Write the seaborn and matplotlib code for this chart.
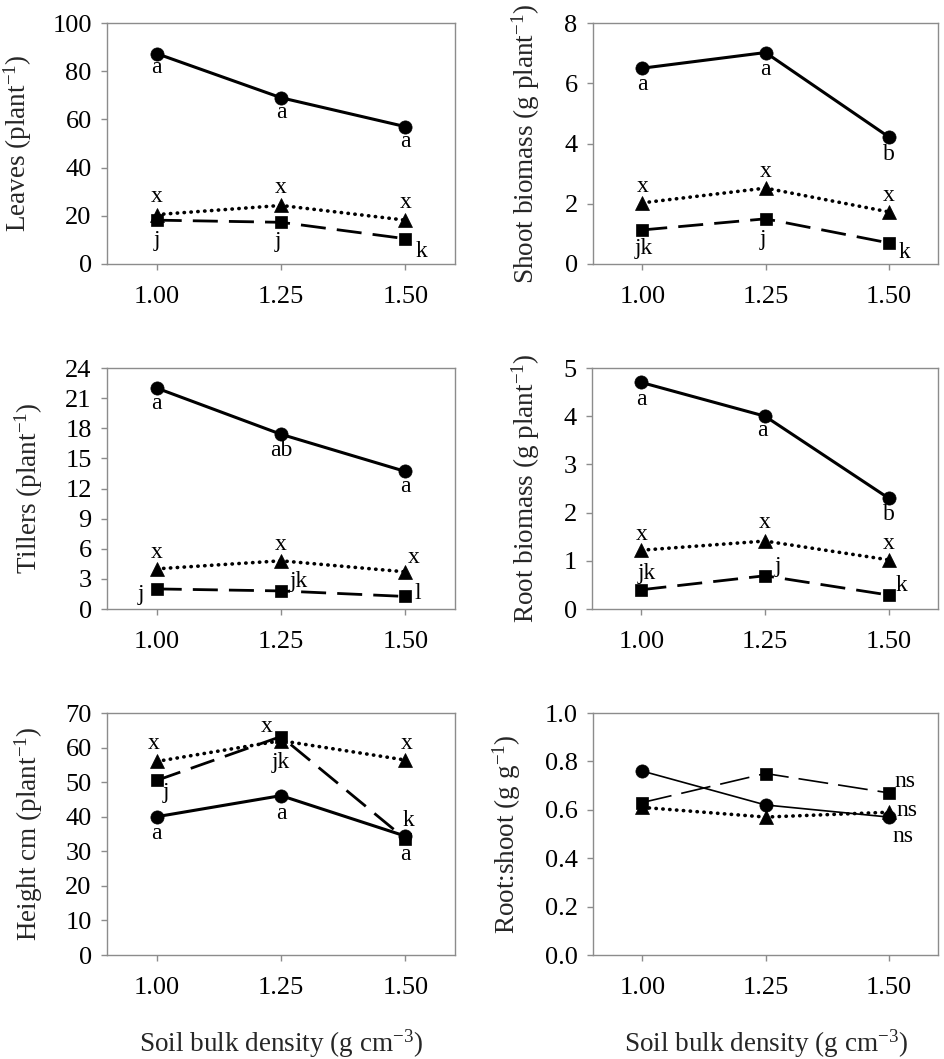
import seaborn as sns
import matplotlib.pyplot as plt
import pandas as pd

# soil bulk density levels (g cm-3)
density = [1.00, 1.25, 1.50]
density_labels = ["1.00", "1.25", "1.50"]

# Leaves (plant-1)
leaves_circle = [87.3, 69.0, 57.0]
leaves_triangle = [20.5, 24.3, 18.2]
leaves_square = [18.2, 17.3, 10.5]
leaves_letters = (["a", "a", "a"], ["x", "x", "x"], ["j", "j", "k"])

# Shoot biomass (g plant-1)
shoot_circle = [6.5, 7.02, 4.22]
shoot_triangle = [2.03, 2.52, 1.73]
shoot_square = [1.13, 1.5, 0.7]
shoot_letters = (["a", "a", "b"], ["x", "x", "x"], ["jk", "j", "k"])

# Tillers (plant-1)
tillers_circle = [22.0, 17.4, 13.7]
tillers_triangle = [4.0, 4.8, 3.7]
tillers_square = [2.0, 1.8, 1.25]
tillers_letters = (["a", "ab", "a"], ["x", "x", "x"], ["j", "jk", "l"])

# Root biomass (g plant-1)
root_circle = [4.7, 4.0, 2.3]
root_triangle = [1.22, 1.41, 1.02]
root_square = [0.4, 0.69, 0.29]
root_letters = (["a", "a", "b"], ["x", "x", "x"], ["jk", "j", "k"])

# Height cm (plant-1)
height_circle = [40.0, 46.1, 34.4]
height_triangle = [56.0, 62.0, 56.4]
height_square = [50.5, 63.2, 33.6]
height_letters = (["a", "a", "a"], ["x", "x", "x"], ["j", "jk", "k"])

# Root:shoot (g g-1)
ratio_circle = [0.76, 0.62, 0.57]
ratio_triangle = [0.61, 0.57, 0.59]
ratio_square = [0.63, 0.75, 0.67]
ratio_letters = (["", "", "ns"], ["", "", "ns"], ["", "", "ns"])

sns.set_style("ticks")
plt.rcParams['font.family'] = ['Liberation Serif', 'DejaVu Serif']
plt.rcParams['mathtext.default'] = 'regular'

fig = plt.figure(figsize=(9.44, 10.59), dpi=100)
W, H = 944, 1059


def add_ax(left, right, top, bottom):
    return fig.add_axes([left / W, 1 - bottom / H, (right - left) / W, (bottom - top) / H])


# axes box in px, data, letters, y label and its x position, letter offsets
panels = [
    dict(box=(107, 455, 23, 264), c=leaves_circle, t=leaves_triangle, s=leaves_square,
         letters=leaves_letters, ylabel="Leaves (plant$^{-1}$)", yticks=range(0, 101, 20),
         lx=-0.21,
         off=([(0, -10), (0, -11), (0, -11)], [(0, 13), (0, 13), (0, 13)],
              [(0, -15), (-2, -14), (12, -9)])),
    dict(box=(593, 938, 23, 264), c=shoot_circle, t=shoot_triangle, s=shoot_square,
         letters=shoot_letters, ylabel="Shoot biomass (g plant$^{-1}$)", yticks=range(0, 9, 2),
         lx=-0.148,
         off=([(0, -12), (0, -12), (0, -13)], [(0, 12), (0, 12), (0, 12)],
              [(1, -13), (-2, -15), (11, -7)])),
    dict(box=(107, 455, 368, 609), c=tillers_circle, t=tillers_triangle, s=tillers_square,
         letters=tillers_letters, ylabel="Tillers (plant$^{-1}$)", yticks=range(0, 25, 3),
         lx=-0.178,
         off=([(0, -11), (0, -12), (0, -11)], [(0, 12), (0, 12), (6, 10)],
              [(-11, -4), (13, 7), (9, 2)])),
    dict(box=(592, 938, 368, 609), c=root_circle, t=root_triangle, s=root_square,
         letters=root_letters, ylabel="Root biomass (g plant$^{-1}$)", yticks=range(0, 6, 1),
         lx=-0.145,
         off=([(0, -12), (-2, -10), (0, -12)], [(0, 11), (0, 13), (0, 12)],
              [(4, 12), (9, 7), (9, 7)])),
    dict(box=(107, 455, 713, 955), c=height_circle, t=height_triangle, s=height_square,
         letters=height_letters, ylabel="Height cm (plant$^{-1}$)", yticks=range(0, 71, 10),
         lx=-0.178,
         off=([(0, -12), (0, -13), (0, -13)], [(-2, 13), (-10, 10), (1, 12)],
              [(7, -9), (0, -19), (2, 13)])),
    dict(box=(593, 938, 713, 955), c=ratio_circle, t=ratio_triangle, s=ratio_square,
         letters=ratio_letters, ylabel="Root:shoot (g g$^{-1}$)",
         yticks=[0.0, 0.2, 0.4, 0.6, 0.8, 1.0], lx=-0.203, thin=True,
         off=([(0, 0), (0, 0), (10, -14)], [(0, 0), (0, 0), (13, 1)],
              [(0, 0), (0, 0), (12, 8)])),
]

ink = "black"
spine_col = "#8c8c8c"

for p in panels:
    ax = add_ax(*p["box"])
    thin = p.get("thin", False)

    sns.lineplot(x=density, y=p["c"], ax=ax, color=ink, lw=1.2 if thin else 2.2,
                 linestyle="-", marker="o", markersize=9.5,
                 markeredgecolor=ink, markeredgewidth=0.5)
    sns.lineplot(x=density, y=p["t"], ax=ax, color=ink, lw=2.6, linestyle=(0, (0.1, 1.8)),
                 dash_capstyle="round", marker="^", markersize=10,
                 markeredgecolor=ink, markeredgewidth=0.5)
    sns.lineplot(x=density, y=p["s"], ax=ax, color=ink,
                 lw=1.2 if thin else 2.0,
                 linestyle=(0, (18, 6)) if thin else (0, (9, 4)),
                 marker="s", markersize=9, markeredgecolor=ink, markeredgewidth=0.5)

    for series, labels, offs in zip((p["c"], p["t"], p["s"]), p["letters"], p["off"]):
        for xv, yv, lab, o in zip(density, series, labels, offs):
            if lab:
                ax.annotate(lab, (xv, yv), xytext=o, textcoords="offset points",
                            ha="center", va="center", fontsize=17, color=ink)

    yt = list(p["yticks"])
    ax.set_ylim(yt[0], yt[-1])
    ax.set_yticks(yt)
    if isinstance(yt[1], float):
        ax.set_yticklabels([f"{v:.1f}" for v in yt])
    ax.set_xlim(0.9, 1.6)
    ax.set_xticks(density)
    ax.set_xticklabels(density_labels)
    ax.set_xlabel("")
    ax.set_ylabel(p["ylabel"], fontsize=19.5)
    ax.yaxis.set_label_coords(p["lx"], 0.5)
    for sp in ax.spines.values():
        sp.set_visible(True)
        sp.set_color(spine_col)
        sp.set_linewidth(1.0)
    ax.tick_params(axis="both", labelsize=19, color=spine_col, length=4, width=1,
                   direction="out", labelcolor=ink)
    ax.tick_params(axis="x", pad=12)
    ax.tick_params(axis="y", pad=7)

    if p["box"][3] == 955:
        ax.set_xlabel("Soil bulk density (g cm$^{-3}$)", fontsize=19.5, labelpad=20)

fig.savefig("out.png", dpi=100)
